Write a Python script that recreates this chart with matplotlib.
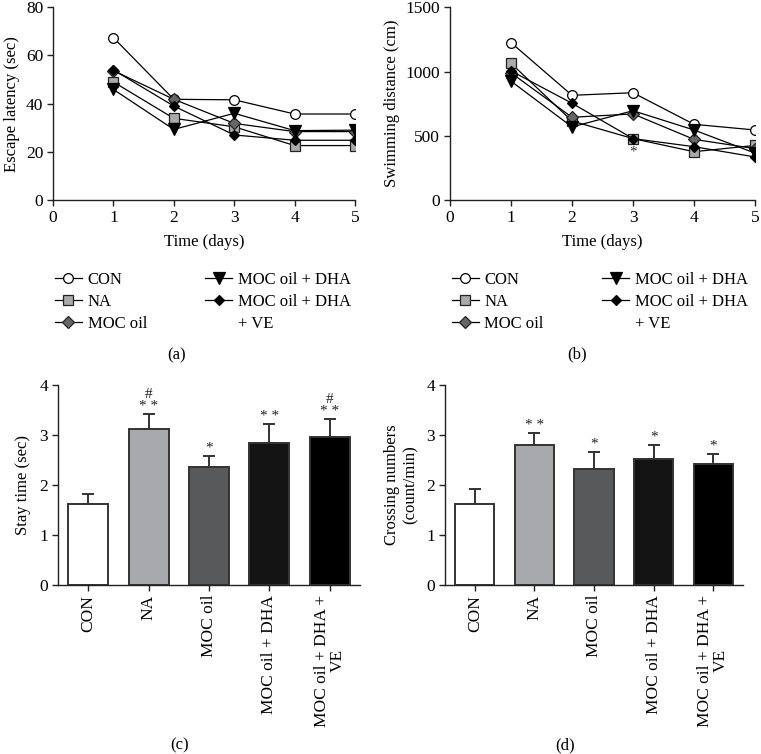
import matplotlib
matplotlib.use("Agg")
import matplotlib.pyplot as plt
from matplotlib.lines import Line2D

plt.rcParams['font.family'] = ['Liberation Serif', 'DejaVu Serif']
plt.rcParams['font.size'] = 11.5

# ---------------- data ----------------
days = [1, 2, 3, 4, 5]
series_names = ["CON", "NA", "MOC oil", "MOC oil + DHA", "MOC oil + DHA\n+ VE"]

escape_con = [67.4, 41.8, 41.6, 35.7, 35.7]
escape_na = [49.0, 33.9, 30.4, 22.6, 22.6]
escape_moc = [53.7, 41.8, 31.8, 28.4, 28.4]
escape_dha = [45.9, 29.3, 36.0, 28.8, 29.0]
escape_ve = [54.0, 39.0, 27.0, 24.8, 24.8]

swim_con = [1225, 815, 835, 589, 545]
swim_na = [1064, 615, 478, 376, 425]
swim_moc = [990, 644, 670, 472, 400]
swim_dha = [925, 569, 695, 545, 365]
swim_ve = [1005, 753, 478, 415, 335]

bar_groups = ["CON", "NA", "MOC oil", "MOC oil + DHA", "MOC oil + DHA +\nVE"]
stay_time = [1.61, 3.11, 2.35, 2.83, 2.95]
stay_err = [0.21, 0.31, 0.23, 0.38, 0.37]
stay_marks = ["", "#\n* *", "*", "* *", "#\n* *"]

crossing = [1.61, 2.80, 2.32, 2.52, 2.41]
crossing_err = [0.31, 0.24, 0.34, 0.28, 0.21]
crossing_marks = ["", "* *", "*", "*", "*"]

# ---------------- styles ----------------
styles = [
    dict(marker='o', mfc='white', mec='black', ms=7),
    dict(marker='s', mfc='#aaaaaa', mec='#222222', ms=6.5),
    dict(marker='D', mfc='#666666', mec='#222222', ms=6.5),
    dict(marker='v', mfc='black', mec='black', ms=8.5),
    dict(marker='D', mfc='black', mec='black', ms=5.5),
]
bar_colors = ['white', '#a7a9ac', '#58595b', '#141414', '#000000']

fig = plt.figure(figsize=(7.61, 7.54), dpi=100)
W, H = 761.0, 754.0


def axes_px(l, r, t, b):
    return fig.add_axes([l / W, 1 - b / H, (r - l) / W, (b - t) / H])


def style_ax(ax):
    for s in ['top', 'right']:
        ax.spines[s].set_visible(False)
    for s in ['left', 'bottom']:
        ax.spines[s].set_linewidth(1.0)
        ax.spines[s].set_color('#222222')
    ax.tick_params(direction='out', length=4, width=1.0, color='#222222',
                   labelsize=12.5, pad=3)


def line_panel(ax, data, ymax, ystep, ylabel):
    for vals, st in zip(data, styles):
        ax.plot(days, vals, color='black', lw=0.9, mew=0.9, **st)
    ax.set_xlim(0, 5)
    ax.set_ylim(0, ymax)
    ax.set_xticks(range(0, 6))
    ax.set_yticks(range(0, ymax + 1, ystep))
    ax.set_xlabel("Time (days)", fontsize=12, labelpad=6)
    ax.set_ylabel(ylabel, fontsize=12, labelpad=4)
    style_ax(ax)
    ax.spines['left'].set_bounds(0, ymax)


ax_a = axes_px(53, 355, 7.3, 200)
line_panel(ax_a, [escape_con, escape_na, escape_moc, escape_dha, escape_ve],
           80, 20, "Escape latency (sec)")

ax_b = axes_px(450, 755, 7.3, 200)
line_panel(ax_b, [swim_con, swim_na, swim_moc, swim_dha, swim_ve],
           1500, 500, "Swimming distance (cm)")
ax_b.text(3, 376, "*", ha='center', va='center', fontsize=11, color='#333333')

# legend: second column's wrapped label is split so the marker sits on its first line
handles = [Line2D([0], [0], color='black', lw=0.9, mew=0.9, **st) for st in styles]
blank = Line2D([0], [0], color='none', lw=0)
last_lines = series_names[4].split("\n")
leg_handles = handles + [blank]
leg_labels = series_names[:4] + last_lines
for ax, x0 in [(ax_a, 55), (ax_b, 452)]:
    ax.legend(leg_handles, leg_labels, ncol=2, loc='upper left',
              bbox_to_anchor=(x0 / W, 1 - 272 / H), bbox_transform=fig.transFigure,
              frameon=False, fontsize=12, handlelength=1.6, handletextpad=0.35,
              columnspacing=3.5, labelspacing=0.35, borderpad=0, borderaxespad=0)

fig.text(177 / W, 1 - 355 / H, "(a)", ha='center', va='center', fontsize=12)
fig.text(577 / W, 1 - 354 / H, "(b)", ha='center', va='center', fontsize=12)


def bar_panel(ax, vals, errs, marks, ylabel):
    x = list(range(len(vals)))
    ax.bar(x, vals, width=0.66, color=bar_colors, edgecolor='#333333', linewidth=1.4,
           zorder=2)
    ax.errorbar(x, vals, yerr=[[0] * len(errs), errs], fmt='none', ecolor='#333333',
                elinewidth=1.4, capsize=4.5, capthick=1.4, zorder=1)
    for xi, v, e, m in zip(x, vals, errs, marks):
        if m:
            ax.text(xi, v + e + 0.02, m, ha='center', va='bottom', fontsize=11,
                    linespacing=0.85, color='#222222')
    ax.set_xlim(-0.5, 4.5)
    ax.set_ylim(0, 4)
    ax.set_yticks(range(0, 5))
    ax.set_xticks(x)
    ax.set_xticklabels(bar_groups, rotation=90, fontsize=12.5, linespacing=1.0)
    ax.set_ylabel(ylabel, fontsize=12, labelpad=6)
    style_ax(ax)


ax_c = axes_px(58, 360, 384.7, 585)
bar_panel(ax_c, stay_time, stay_err, stay_marks, "Stay time (sec)")

ax_d = axes_px(445, 743, 384.7, 585)
bar_panel(ax_d, crossing, crossing_err, crossing_marks, "Crossing numbers\n(count/min)")

fig.text(180 / W, 1 - 745 / H, "(c)", ha='center', va='center', fontsize=12)
fig.text(565 / W, 1 - 745 / H, "(d)", ha='center', va='center', fontsize=12)

fig.savefig("out.png", dpi=100)
